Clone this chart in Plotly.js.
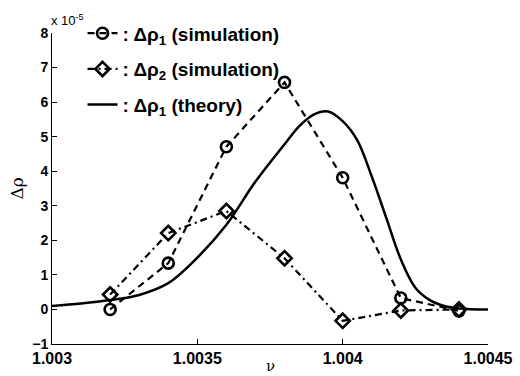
<!DOCTYPE html>
<html>
<head>
<meta charset="utf-8">
<script src="https://cdn.plot.ly/plotly-3.0.1.min.js"></script>
<style>
  html, body { margin: 0; padding: 0; background: #fff; }
  #chart { width: 520px; height: 376px; }
</style>
</head>
<body>
<div id="chart"></div>
<script>
// Frequency samples of the simulations (nu) and density changes, in units of 1e-5
const nu = [1.0032, 1.0034, 1.0036, 1.0038, 1.0040, 1.0042, 1.0044];
const rho1Sim = [0.0, 1.34, 4.71, 6.57, 3.81, 0.33, -0.04];
const rho2Sim = [0.43, 2.21, 2.85, 1.48, -0.33, -0.03, 0.0];

// Theoretical curve for delta rho_1
const nuTheory = [1.0030, 1.0031, 1.0032, 1.0033, 1.0034, 1.0035, 1.0036, 1.0037,
                  1.0038, 1.00385, 1.0039, 1.00395, 1.0040, 1.00405, 1.0041,
                  1.00415, 1.0042, 1.00425, 1.0043, 1.00435, 1.0044, 1.0045];
const rhoTheory = [0.10, 0.17, 0.27, 0.42, 0.76, 1.50, 2.45, 3.70,
                   4.78, 5.30, 5.64, 5.73, 5.45, 4.90, 3.85,
                   2.65, 1.45, 0.63, 0.27, 0.10, 0.03, 0.0];

const xTicks = [1.003, 1.0035, 1.004, 1.0045];
const xTickText = ['1.003', '1.0035', '1.004', '1.0045'];
const yTicks = [-1, 0, 1, 2, 3, 4, 5, 6, 7, 8];

const ARIAL = 'Liberation Sans, Arial, sans-serif';

const traces = [
  {
    x: nu, y: rho1Sim, type: 'scatter', mode: 'lines+markers',
    name: ': Δρ<sub>1</sub> (simulation)', legendgroup: 'a',
    line: { color: '#000', width: 2.2, dash: '7px,5px' },
    marker: { symbol: 'circle-open', size: 11, color: '#000', line: { width: 2.6, color: '#000' } }
  },
  {
    x: nu, y: rho2Sim, type: 'scatter', mode: 'lines+markers',
    name: ': Δρ<sub>2</sub> (simulation)', legendgroup: 'b',
    line: { color: '#000', width: 2.2, dash: '7px,4px,2px,4px' },
    marker: { symbol: 'diamond-open', size: 11, color: '#000', line: { width: 2.6, color: '#000' } }
  },
  {
    x: nuTheory, y: rhoTheory, type: 'scatter', mode: 'lines',
    name: ': Δρ<sub>1</sub> (theory)', legendgroup: 'c',
    line: { color: '#000', width: 2.5, shape: 'spline', smoothing: 1 }
  }
];

const layout = {
  width: 520, height: 376,
  margin: { l: 52, r: 32, t: 33, b: 32 },
  paper_bgcolor: '#fff', plot_bgcolor: '#fff',
  font: { family: ARIAL, size: 14, color: '#000', weight: 'bold' },
  showlegend: true,
  legend: {
    x: 0.07, y: 1.06, xanchor: 'left', yanchor: 'top',
    bgcolor: 'rgba(0,0,0,0)', borderwidth: 0,
    traceorder: 'grouped', tracegroupgap: 8,
    font: { family: ARIAL, size: 19, color: '#000', weight: 'bold' }
  },
  xaxis: {
    range: [1.003, 1.0045], tickvals: xTicks, ticktext: xTickText,
    ticks: 'inside', ticklen: 5, tickcolor: '#000', tickwidth: 1,
    showline: true, linecolor: '#000', linewidth: 1, mirror: false,
    showgrid: false, zeroline: false,
    tickfont: { family: ARIAL, size: 16, color: '#000', weight: 'bold' }
  },
  yaxis: {
    range: [-1, 8], tickvals: yTicks,
    ticks: 'inside', ticklen: 5, tickcolor: '#000', tickwidth: 1,
    showline: true, linecolor: '#000', linewidth: 1, mirror: false,
    showgrid: false, zeroline: false,
    tickfont: { family: ARIAL, size: 14, color: '#000', weight: 'bold' }
  },
  annotations: [
    { text: 'x 10<sup>-5</sup>', xref: 'paper', yref: 'paper', x: 0, y: 1,
      xanchor: 'left', yanchor: 'bottom', xshift: -3, yshift: 3, showarrow: false,
      font: { family: ARIAL, size: 13, color: '#000', weight: 'normal' } },
    { text: 'Δρ', xref: 'paper', yref: 'paper', x: 0, y: 0.5, textangle: -90,
      xanchor: 'center', yanchor: 'middle', xshift: -36, showarrow: false,
      font: { family: 'DejaVu Serif, serif', size: 17, color: '#000', weight: 'normal' } },
    { text: 'ν', xref: 'paper', yref: 'paper', x: 0.5, y: 0,
      xanchor: 'center', yanchor: 'middle', yshift: -22, showarrow: false,
      font: { family: 'DejaVu Serif, serif', size: 15, color: '#000', weight: 'normal' } }
  ]
};

Plotly.newPlot('chart', traces, layout, { displayModeBar: false, staticPlot: true });
</script>
</body>
</html>
